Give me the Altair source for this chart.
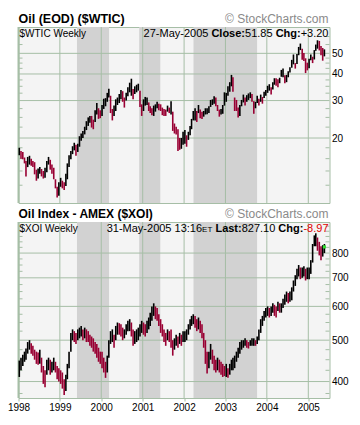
import altair as alt
import pandas as pd

YEARS = [1998, 1999, 2000, 2001, 2002, 2003, 2004, 2005]

# semi-monthly bars (first / second half of each month), Jan 1998 - May 2005
WTIC_HIGH = [
    18.0, 17.4, 17.2, 16.2, 15.6, 16.3, 16.5, 16.0, 15.6, 15.4, 14.2, 14.4, 14.6, 14.3, 14.0, 14.5, 15.6, 16.3, 15.8, 15.0, 14.5, 12.8, 11.8, 12.4,
    13.0, 12.6, 12.4, 13.6, 15.2, 16.6, 17.4, 18.3, 19.0, 18.6, 18.8, 20.4, 21.0, 21.6, 22.6, 24.0, 25.0, 25.4, 25.4, 24.4, 27.0, 29.2, 27.6, 27.0,
    28.6, 30.6, 30.8, 32.6, 34.1, 31.6, 27.4, 28.4, 30.4, 31.0, 32.2, 33.6, 33.2, 31.0, 32.6, 34.6, 36.4, 38.0, 34.0, 35.0, 35.6, 36.0, 33.4, 28.8,
    30.4, 31.2, 31.0, 29.4, 28.2, 27.6, 28.4, 28.8, 29.6, 29.0, 28.8, 27.8, 27.4, 27.2, 28.4, 27.8, 29.8, 26.6, 23.4, 22.6, 22.0, 20.0, 20.0, 21.4,
    21.8, 20.6, 21.4, 22.8, 24.6, 26.8, 27.6, 26.8, 28.6, 27.2, 26.6, 26.8, 27.6, 27.6, 28.2, 30.2, 30.4, 31.4, 31.0, 28.6, 27.2, 27.4, 28.6, 32.8,
    32.6, 35.0, 36.6, 39.6, 38.6, 31.0, 30.2, 27.8, 28.6, 30.2, 32.0, 31.0, 31.8, 32.4, 32.8, 32.2, 29.8, 29.6, 31.6, 30.6, 32.0, 31.2, 33.0, 33.6,
    35.2, 35.8, 34.6, 36.6, 38.2, 38.2, 37.8, 38.4, 41.8, 42.4, 39.4, 39.6, 41.2, 43.0, 46.6, 49.4, 45.0, 49.6, 53.6, 55.6, 52.6, 50.2, 47.4, 45.2,
    47.2, 49.4, 48.2, 51.8, 55.0, 57.6, 57.2, 54.2, 53.0, 52.2,
]
WTIC_LOW = [
    16.6, 16.0, 15.9, 15.2, 13.2, 14.6, 15.0, 14.8, 14.6, 13.5, 12.6, 12.9, 13.6, 13.2, 12.9, 13.0, 13.8, 15.0, 14.2, 13.6, 12.8, 11.6, 10.5, 10.7,
    11.8, 11.6, 11.4, 11.9, 12.8, 14.6, 15.9, 16.8, 17.5, 16.5, 17.2, 18.2, 19.4, 20.0, 20.8, 21.8, 22.8, 23.6, 22.4, 22.0, 23.8, 25.8, 24.6, 24.8,
    25.4, 27.4, 28.2, 29.6, 31.0, 26.2, 24.2, 25.4, 26.8, 28.6, 29.2, 30.4, 29.6, 27.8, 30.0, 31.4, 32.8, 31.6, 30.4, 32.2, 32.8, 33.4, 28.0, 25.4,
    26.8, 28.4, 28.6, 26.8, 26.2, 25.6, 25.4, 26.6, 27.6, 27.0, 26.8, 25.6, 25.4, 25.4, 26.6, 26.2, 25.8, 21.6, 21.0, 20.8, 17.4, 17.6, 17.8, 18.6,
    18.8, 18.2, 19.6, 20.6, 22.0, 24.2, 24.2, 23.8, 26.2, 24.8, 24.6, 25.2, 25.8, 25.9, 26.2, 28.0, 28.6, 29.0, 28.2, 26.8, 25.2, 25.8, 26.0, 28.4,
    29.6, 31.6, 33.0, 35.0, 33.0, 26.8, 26.8, 25.0, 25.4, 28.2, 29.4, 28.4, 29.6, 30.2, 30.8, 29.6, 26.0, 27.6, 29.2, 28.4, 29.6, 29.0, 30.8, 31.6,
    32.6, 33.4, 32.0, 33.8, 35.6, 35.2, 34.6, 36.2, 38.8, 38.6, 36.2, 36.6, 38.6, 40.6, 42.8, 44.4, 42.4, 44.6, 49.0, 51.8, 46.6, 46.0, 40.4, 41.6,
    42.6, 46.4, 45.0, 46.8, 51.4, 52.6, 51.6, 49.0, 46.2, 48.4,
]
XOI_HIGH = [
    448, 455, 462, 470, 478, 495, 500, 492, 485, 475, 470, 468, 475, 455, 435, 425, 450, 455, 450, 445, 455, 445, 435, 430,
    425, 420, 405, 415, 440, 470, 520, 530, 525, 520, 530, 535, 540, 530, 535, 530, 525, 515, 510, 505, 495, 490, 480, 470,
    470, 455, 445, 460, 500, 525, 530, 515, 540, 550, 548, 545, 535, 530, 545, 555, 560, 550, 530, 525, 530, 535, 545, 555,
    550, 545, 555, 565, 580, 600, 610, 600, 595, 575, 560, 545, 530, 520, 530, 525, 530, 500, 505, 515, 510, 520, 515, 525,
    525, 530, 545, 560, 570, 575, 570, 560, 565, 555, 545, 520, 500, 470, 470, 490, 475, 460, 450, 455, 450, 445, 440, 435,
    440, 430, 440, 450, 455, 460, 470, 480, 495, 500, 500, 505, 500, 495, 500, 505, 505, 500, 510, 530, 560, 570, 585, 595,
    600, 595, 600, 610, 605, 600, 615, 610, 610, 625, 640, 650, 645, 650, 665, 690, 710, 735, 750, 740, 740, 745, 735, 740,
    740, 770, 840, 880, 890, 870, 850, 830, 835, 840,
]
XOI_LOW = [
    410, 425, 435, 445, 450, 465, 475, 465, 460, 450, 440, 438, 440, 420, 395, 388, 415, 425, 415, 420, 425, 420, 405, 400,
    395, 385, 372, 380, 405, 430, 470, 500, 495, 490, 500, 505, 510, 500, 505, 495, 495, 485, 480, 470, 465, 455, 445, 440,
    430, 420, 408, 420, 455, 490, 495, 480, 500, 515, 515, 510, 500, 505, 515, 525, 525, 510, 485, 490, 495, 500, 510, 520,
    515, 510, 520, 530, 540, 555, 570, 560, 555, 540, 520, 510, 495, 485, 500, 495, 480, 460, 475, 485, 480, 490, 485, 495,
    495, 500, 515, 530, 540, 545, 535, 525, 530, 520, 505, 480, 440, 418, 430, 450, 440, 425, 420, 425, 420, 415, 410, 412,
    410, 408, 415, 425, 425, 430, 445, 455, 465, 475, 480, 485, 480, 478, 485, 485, 485, 485, 490, 500, 520, 540, 555, 565,
    570, 565, 570, 580, 570, 565, 585, 580, 580, 595, 605, 615, 610, 615, 620, 650, 670, 695, 705, 695, 700, 705, 690, 695,
    695, 715, 760, 830, 830, 810, 790, 770, 785, 800,
]
XOI_LAST = [827.1]

SHADE_START = ["1999-06-01", "2000-12-01", "2002-03-25"]
SHADE_END = ["2000-03-10", "2001-06-05", "2003-10-07"]

WTIC_GRID = [20, 30, 40, 50]
WTIC_MINOR = [12, 14, 16, 18, 22.5, 25, 27.5, 32.5, 35, 37.5, 42.5, 45, 47.5, 55, 60]
XOI_GRID = [400, 500, 600, 700, 800]
XOI_MINOR = [375, 425, 450, 475, 525, 550, 575, 625, 650, 675, 725, 750, 775, 825, 850, 875, 900, 925]

W, H = 311, 176
GRID = "#a6bea6"
BG = "#f4f4f4"
SHADE = "#d2d2d2"
FONT = "Liberation Sans"


def half_month_dates(n):
    out = []
    y, m = 1998, 1
    while len(out) < n:
        for d in (8, 23):
            out.append(f"{y}-{m:02d}-{d:02d}")
        m += 1
        if m > 12:
            m, y = 1, y + 1
    return out[:n]


def text_layer(txt, x, y, align="left", size=11, bold=False, color="#000000"):
    return alt.Chart(pd.DataFrame({"t": [txt]})).mark_text(
        align=align, baseline="alphabetic", font=FONT, fontSize=size,
        fontWeight="bold" if bold else "normal", color=color,
    ).encode(x=alt.value(x), y=alt.value(y), text="t:N")


def panel(high, low, domain, grid_vals, minor_vals, texts, show_x, last=None):
    dates = half_month_dates(len(high))
    df = pd.DataFrame({"date": dates, "high": high, "low": low})
    mid = [(h + l) / 2 for h, l in zip(high, low)]
    df["dir"] = ["up" if i == 0 or mid[i] >= mid[i - 1] else "down" for i in range(len(mid))]

    xscale = alt.Scale(domain=[alt.DateTime(year=1998, month=1, date=1),
                               alt.DateTime(year=2005, month=7, date=7)])
    yscale = alt.Scale(type="log", domain=domain, nice=False)
    if show_x:
        xaxis = alt.Axis(values=[alt.DateTime(year=y, month=1, date=1) for y in YEARS],
                         format="%Y", grid=False, domain=False, tickSize=3, tickColor=GRID,
                         labelFont=FONT, labelFontSize=10, labelColor="#000000",
                         labelPadding=1, labelFlush=False, title=None)
    else:
        xaxis = None
    yaxis = alt.Axis(orient="right", values=grid_vals, grid=False, ticks=False, domain=False,
                     labelFont=FONT, labelFontSize=10, labelColor="#000000",
                     labelPadding=2, title=None)

    shade = alt.Chart(pd.DataFrame({"s": SHADE_START, "e": SHADE_END})).mark_rect(
        color=SHADE).encode(x=alt.X("s:T", scale=xscale, axis=xaxis), x2="e:T")
    vgrid = alt.Chart(pd.DataFrame({"d": [f"{y}-01-01" for y in YEARS[1:]]})).mark_rule(
        color=GRID, strokeWidth=1).encode(x=alt.X("d:T", scale=xscale, axis=xaxis))
    hgrid = alt.Chart(pd.DataFrame({"v": grid_vals})).mark_rule(
        color=GRID, strokeWidth=1).encode(y=alt.Y("v:Q", scale=yscale, axis=yaxis))
    minor_df = pd.DataFrame({"v": minor_vals})
    minor_r = alt.Chart(minor_df).mark_rule(color=GRID).encode(
        y=alt.Y("v:Q", scale=yscale, axis=yaxis), x=alt.value(W - 4), x2=alt.value(W))
    minor_l = alt.Chart(minor_df).mark_rule(color=GRID).encode(
        y=alt.Y("v:Q", scale=yscale, axis=yaxis), x=alt.value(0), x2=alt.value(4))
    left_edge = alt.Chart(pd.DataFrame({"d": ["1998-01-01"]})).mark_rule(
        color=GRID, strokeWidth=2).encode(x=alt.X("d:T", scale=xscale, axis=xaxis))
    bars = alt.Chart(df).mark_rule(strokeWidth=1.6).encode(
        x=alt.X("date:T", scale=xscale, axis=xaxis),
        y=alt.Y("low:Q", scale=yscale, axis=yaxis),
        y2="high:Q",
        color=alt.Color("dir:N", scale=alt.Scale(domain=["up", "down"],
                                                 range=["#000000", "#990033"]), legend=None),
    )
    layers = [shade, vgrid, hgrid, minor_r, minor_l, left_edge, bars]
    if last is not None:
        ldf = pd.DataFrame({"date": [dates[-1]], "v": last})
        layers.append(alt.Chart(ldf).mark_point(shape="square", filled=True, size=10,
                                                color="#33dd33", opacity=1).encode(
            x=alt.X("date:T", scale=xscale, axis=xaxis),
            y=alt.Y("v:Q", scale=yscale, axis=yaxis)))
    layers += texts
    return alt.layer(*layers).properties(width=W, height=H)


top_texts = [
    text_layer("Oil (EOD) ($WTIC)", 0, -4, size=12.5, bold=True),
    text_layer("© StockCharts.com", 310, -4, align="right", size=12, color="#8a8a8a"),
    text_layer("$WTIC Weekly", 1, 9.5, size=10),
    text_layer("27-May-2005", 189.9, 9.5, align="right"),
    text_layer("Close:", 226.5, 9.5, align="right", bold=True),
    text_layer("51.85", 254.1, 9.5, align="right"),
    text_layer("Chg:", 282.2, 9.5, align="right", bold=True),
    text_layer("+3.20", 310, 9.5, align="right"),
]
bottom_texts = [
    text_layer("Oil Index - AMEX ($XOI)", 0, -4, size=12, bold=True),
    text_layer("© StockCharts.com", 310, -4, align="right", size=12, color="#8a8a8a"),
    text_layer("$XOI Weekly", 1, 9.5, size=10),
    text_layer("31-May-2005", 153.0, 9.5, align="right"),
    text_layer("13:16", 183.6, 9.5, align="right"),
    text_layer("ET", 193.8, 9.5, align="right", size=8),
    text_layer("Last:", 223.2, 9.5, align="right", bold=True),
    text_layer("827.10", 256.8, 9.5, align="right"),
    text_layer("Chg:", 284.9, 9.5, align="right", bold=True),
    text_layer("-8.97", 310, 9.5, align="right", color="#e00000"),
]

top = panel(WTIC_HIGH, WTIC_LOW, [9.9, 66.5], WTIC_GRID, WTIC_MINOR, top_texts, False)
bottom = panel(XOI_HIGH, XOI_LOW, [366, 946], XOI_GRID, XOI_MINOR, bottom_texts, True, XOI_LAST)

chart = alt.vconcat(top, bottom, spacing=19, bounds="flush").properties(
    padding={"left": -1.5, "top": 4, "right": 0, "bottom": 0},
    background="#ffffff",
).configure_view(stroke=GRID, strokeWidth=1, fill=BG)

chart.save("out.html", embed_options={"renderer": "svg", "actions": False})
